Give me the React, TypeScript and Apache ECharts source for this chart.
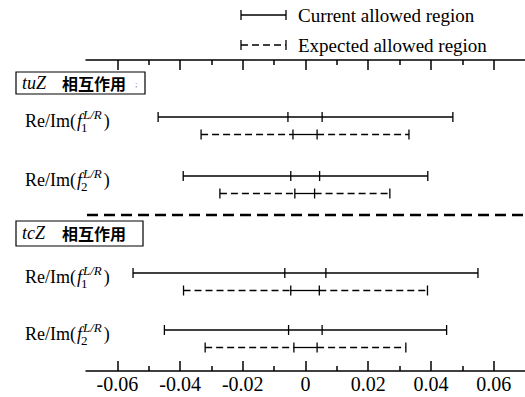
import React, { useEffect, useRef } from 'react';
import * as echarts from 'echarts';

// ---- data ----
const groupNames = ['tuZ', 'tcZ'];
const rowSubscripts = ['1', '2', '1', '2'];
const currentOuter = [[-0.047, 0.047], [-0.039, 0.039], [-0.055, 0.055], [-0.045, 0.045]];
const currentInner = [[-0.0056, 0.0053], [-0.0047, 0.0045], [-0.0066, 0.0065], [-0.0054, 0.0053]];
const expectedOuter = [[-0.0333, 0.033], [-0.0273, 0.0269], [-0.0389, 0.0389], [-0.032, 0.032]];
const expectedInner = [[-0.004, 0.0037], [-0.0034, 0.0029], [-0.0047, 0.0044], [-0.0037, 0.0037]];
const majorTicks = [-0.06, -0.04, -0.02, 0, 0.02, 0.04, 0.06];
const minorTicks = [-0.05, -0.03, -0.01, 0.01, 0.03, 0.05];
const legendLabels = ['Current allowed region', 'Expected allowed region'];

// ---- layout (vertical slots in px from grid top) ----
const rowSlot = [57, 116, 213, 270];
const pairGap = 17.5;

const SERIF = '"Liberation Serif", "Times New Roman", serif';
const CJK = '"Noto Sans CJK SC", sans-serif';

let ctx: CanvasRenderingContext2D | null = null;
function measure(text: string, font: string) {
  if (!ctx) ctx = document.createElement('canvas').getContext('2d');
  ctx!.font = font;
  return ctx!.measureText(text).width;
}

function vline(x: number, y: number, h: number, lw = 1.3) {
  return { type: 'line', shape: { x1: x, y1: y - h, x2: x, y2: y + h }, style: { stroke: '#000', lineWidth: lw } };
}
function hline(x1: number, x2: number, y: number, dash?: number[]) {
  return {
    type: 'line',
    shape: { x1, y1: y, x2, y2: y },
    style: { stroke: '#000', lineWidth: 1.3, lineDash: dash || null },
  };
}

function rowLabel(x0: number, yc: number, sub: string) {
  const fn = `18px ${SERIF}`;
  const fi = `italic 18px ${SERIF}`;
  const fs = `13px ${SERIF}`;
  const fsi = `italic 13px ${SERIF}`;
  const w1 = measure('Re/Im(', fn);
  const wf = measure('f', fi);
  const ws = measure(sub, fs);
  const wsup = measure('L/R', fsi);
  const t = (text: string, x: number, y: number, font: string) => ({
    type: 'text',
    x,
    y,
    style: { text, font, fill: '#000', align: 'left', verticalAlign: 'middle' },
  });
  return [
    t('Re/Im(', x0, yc, fn),
    t('f', x0 + w1 + 1, yc, fi),
    t(sub, x0 + w1 + wf, yc + 6, fs),
    t('L/R', x0 + w1 + wf + 2, yc - 7, fsi),
    t(')', x0 + w1 + wf + Math.max(ws, wsup) + 4, yc, fn),
  ];
}

export default function App() {
  const ref = useRef<HTMLDivElement>(null);
  useEffect(() => {
    const chart = echarts.init(ref.current!, null, { renderer: 'svg' });
    const baseX = { type: 'value', min: -0.07, max: 0.07, splitLine: { show: false } };
    const tickStyle = { color: '#000', width: 1.5 };
    const option: any = {
      animation: false,
      backgroundColor: '#fff',
      grid: { left: 86, right: -3, top: 60, bottom: 26 },
      xAxis: [
        {
          ...baseX,
          position: 'bottom',
          axisLine: { show: true, onZero: false, lineStyle: tickStyle },
          axisTick: { show: true, inside: true, length: 10, customValues: majorTicks, lineStyle: tickStyle },
          axisLabel: {
            customValues: majorTicks,
            formatter: (v: number) => (Math.abs(v) < 1e-9 ? '0' : v.toFixed(2)),
            fontFamily: SERIF,
            fontSize: 20,
            color: '#000',
            margin: 3,
          },
        },
        {
          ...baseX,
          position: 'bottom',
          axisLine: { show: false, onZero: false },
          axisTick: { show: true, inside: true, length: 5, customValues: minorTicks, lineStyle: tickStyle },
          axisLabel: { show: false },
        },
        {
          ...baseX,
          position: 'top',
          axisLine: { show: true, onZero: false, lineStyle: tickStyle },
          axisTick: { show: true, inside: true, length: 10, customValues: majorTicks, lineStyle: tickStyle },
          axisLabel: { show: false },
        },
        {
          ...baseX,
          position: 'top',
          axisLine: { show: false, onZero: false },
          axisTick: { show: true, inside: true, length: 5, customValues: minorTicks, lineStyle: tickStyle },
          axisLabel: { show: false },
        },
      ],
      yAxis: { type: 'value', min: 0, max: 311, inverse: true, show: false },
      series: [
        {
          type: 'custom',
          xAxisIndex: 0,
          clip: false,
          data: rowSubscripts.map((_, i) => [0, rowSlot[i]]),
          renderItem: (params: any, api: any) => {
            const i = params.dataIndex;
            const ys = api.coord([0, rowSlot[i]])[1];
            const yd = api.coord([0, rowSlot[i] + pairGap])[1];
            const px = (v: number) => api.coord([v, 0])[0];
            const [cl, cr] = currentOuter[i].map(px);
            const [cil, cir] = currentInner[i].map(px);
            const [el, er] = expectedOuter[i].map(px);
            const [eil, eir] = expectedInner[i].map(px);
            const cap = 5;
            const children: any[] = [
              hline(cl, cr, ys),
              vline(cl, ys, cap),
              vline(cil, ys, cap),
              vline(cir, ys, cap),
              vline(cr, ys, cap),
              hline(el, eil, yd, [7, 4]),
              hline(eil, eir, yd),
              hline(eir, er, yd, [7, 4]),
              vline(el, yd, cap),
              vline(eil, yd, cap),
              vline(eir, yd, cap),
              vline(er, yd, cap),
              ...rowLabel(25, ys + 4, rowSubscripts[i]),
            ];
            return { type: 'group', children };
          },
        },
      ],
      graphic: [
        // legend
        { type: 'line', shape: { x1: 241, y1: 15, x2: 286, y2: 15 }, style: { stroke: '#000', lineWidth: 1.3 } },
        { type: 'line', shape: { x1: 241, y1: 10, x2: 241, y2: 20 }, style: { stroke: '#000', lineWidth: 1.3 } },
        { type: 'line', shape: { x1: 286, y1: 10, x2: 286, y2: 20 }, style: { stroke: '#000', lineWidth: 1.3 } },
        { type: 'text', x: 298, y: 15, style: { text: legendLabels[0], font: `19px ${SERIF}`, fill: '#000', verticalAlign: 'middle' } },
        { type: 'line', shape: { x1: 241, y1: 45, x2: 286, y2: 45 }, style: { stroke: '#000', lineWidth: 1.3, lineDash: [7, 4] } },
        { type: 'line', shape: { x1: 241, y1: 40, x2: 241, y2: 50 }, style: { stroke: '#000', lineWidth: 1.3 } },
        { type: 'line', shape: { x1: 286, y1: 40, x2: 286, y2: 50 }, style: { stroke: '#000', lineWidth: 1.3 } },
        { type: 'text', x: 298, y: 45, style: { text: legendLabels[1], font: `19px ${SERIF}`, fill: '#000', verticalAlign: 'middle' } },
        // tuZ box
        { type: 'rect', shape: { x: 16, y: 72, width: 129, height: 22 }, style: { fill: '#fff', stroke: '#000', lineWidth: 1.2 } },
        { type: 'text', x: 22, y: 83, style: { text: groupNames[0], font: `italic 18px ${SERIF}`, fill: '#000', verticalAlign: 'middle' } },
        { type: 'text', x: 62, y: 83, style: { text: '相互作用', font: `bold 16px ${CJK}`, fill: '#000', verticalAlign: 'middle' } },
        { type: 'text', x: 135, y: 84, style: { text: ';', font: `9px ${SERIF}`, fill: '#888', verticalAlign: 'middle' } },
        // separator
        { type: 'line', shape: { x1: 87, y1: 215, x2: 525, y2: 215 }, style: { stroke: '#000', lineWidth: 2.5, lineDash: [11, 6] } },
        // tcZ box
        { type: 'rect', shape: { x: 16, y: 221, width: 127, height: 25 }, style: { fill: '#fff', stroke: '#000', lineWidth: 1.2 } },
        { type: 'text', x: 22, y: 233, style: { text: groupNames[1], font: `italic 18px ${SERIF}`, fill: '#000', verticalAlign: 'middle' } },
        { type: 'text', x: 62, y: 233, style: { text: '相互作用', font: `bold 16px ${CJK}`, fill: '#000', verticalAlign: 'middle' } },
      ],
    };
    chart.setOption(option);
    return () => chart.dispose();
  }, []);
  return <div ref={ref} style={{ position: 'fixed', left: 0, top: 0, width: 525, height: 397, background: '#fff' }} />;
}
